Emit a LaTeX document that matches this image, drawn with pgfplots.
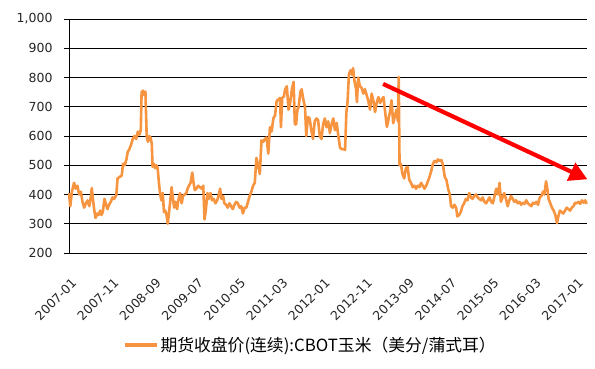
\documentclass[border=0pt]{standalone}
\usepackage{pgfplots}
\pgfplotsset{compat=1.18}
\usepackage{fontspec}
\setmainfont{DejaVu Sans}
\newfontfamily\cjk{Noto Sans CJK SC}
\usetikzlibrary{arrows.meta}
\definecolor{corn}{RGB}{247,148,64}
\pgfplotstableread{
m v
0 405
0.3 360
0.7 410
1.2 440
1.6 420
2.0 430
2.4 400
2.8 410
3.2 375
3.6 355
4.0 370
4.4 380
4.8 360
5.2 395
5.4 422
5.7 380
6.0 345
6.3 320
6.7 335
7.0 330
7.4 345
7.7 330
8.0 340
8.4 385
8.7 370
9.1 350
9.5 365
9.9 375
10.3 390
10.7 385
11.2 398
11.5 455
12.0 460
12.5 465
12.8 505
13.2 500
13.6 520
13.9 545
14.3 555
14.7 570
15.1 590
15.5 600
15.9 590
16.3 615
16.7 605
17.0 620
17.2 750
17.5 755
17.8 740
18.1 752
18.4 600
18.7 580
19.0 600
19.3 595
19.6 575
19.8 495
20.1 505
20.4 490
20.7 500
21.0 490
21.3 440
21.6 400
21.9 380
22.2 405
22.5 340
22.8 345
23.1 330
23.4 300
23.7 340
24.0 380
24.3 425
24.6 390
24.9 355
25.2 375
25.6 350
25.9 380
26.3 405
26.7 370
27.0 395
27.4 400
27.8 405
28.1 420
28.4 430
28.8 440
29.2 475
29.5 440
29.8 415
30.2 420
30.6 430
31.0 425
31.4 420
31.8 430
32.1 315
32.4 345
32.8 405
33.1 385
33.5 405
33.9 380
34.3 385
34.7 370
35.1 380
35.5 400
35.8 420
36.1 385
36.5 395
36.8 370
37.2 365
37.6 355
38.0 370
38.4 360
38.8 350
39.2 365
39.6 375
40.0 370
40.4 355
40.8 360
41.2 335
41.6 355
42.0 355
42.4 375
42.8 395
43.2 410
43.6 430
44.0 440
44.4 525
44.8 500
45.2 470
45.6 585
46.0 580
46.4 590
46.8 595
47.2 540
47.6 630
48.0 615
48.4 660
48.8 670
49.2 720
49.6 725
50.0 730
50.2 630
50.5 730
50.9 735
51.2 760
51.6 770
52.0 690
52.4 715
52.8 760
53.2 785
53.5 640
53.8 640
54.1 690
54.4 700
54.8 750
55.1 760
55.5 725
55.9 700
56.2 600
56.6 665
57.0 660
57.4 620
57.8 590
58.2 650
58.6 660
59.0 655
59.4 600
59.8 590
60.2 640
60.6 660
61.0 630
61.4 650
61.8 610
62.2 640
62.6 660
63.0 620
63.4 645
63.8 600
64.2 560
64.6 555
65.0 555
65.4 552
65.7 680
66.0 720
66.3 810
66.7 825
67.0 810
67.3 832
67.6 790
68.0 760
68.2 716
68.5 800
68.9 770
69.3 765
69.7 745
70.1 760
70.5 740
70.9 720
71.3 690
71.7 745
72.1 720
72.5 682
72.9 715
73.3 733
73.7 713
74.1 725
74.5 733
74.9 680
75.3 631
75.7 660
76.0 679
76.4 722
76.8 644
77.2 670
77.6 690
77.9 650
78.1 802
78.3 500
78.6 505
79.0 470
79.4 455
79.8 490
80.2 495
80.6 450
81.0 440
81.4 425
81.8 430
82.2 420
82.6 430
83.0 425
83.4 440
83.8 430
84.2 420
84.6 430
85.0 445
85.4 460
85.8 480
86.2 505
86.6 515
87.0 510
87.4 520
87.8 515
88.2 518
88.6 500
89.0 460
89.4 450
89.8 420
90.2 400
90.5 360
90.9 355
91.3 365
91.7 355
92.0 325
92.4 330
92.8 340
93.2 360
93.6 370
94.0 385
94.4 380
94.8 405
95.2 390
95.6 385
96.0 395
96.4 400
96.8 390
97.2 385
97.6 380
98.0 390
98.4 375
98.8 370
99.2 380
99.6 390
100.0 375
100.4 370
100.8 395
101.2 420
101.6 400
102.0 440
102.3 375
102.7 390
103.1 405
103.5 385
103.9 360
104.3 380
104.7 395
105.1 385
105.5 375
105.9 380
106.3 370
106.7 375
107.1 365
107.5 372
107.9 368
108.3 380
108.7 370
109.1 365
109.5 360
109.9 372
110.3 368
110.7 375
111.1 365
111.5 390
111.9 395
112.3 410
112.6 400
113.0 445
113.3 420
113.6 385
114.0 370
114.4 355
114.8 345
115.2 330
115.6 302
115.9 325
116.3 345
116.7 340
117.1 335
117.5 345
117.9 355
118.3 350
118.7 345
119.1 355
119.5 360
119.9 372
120.3 370
120.7 375
121.1 368
121.5 380
121.9 372
122.3 380
122.6 368
}\corn
\begin{document}
\begin{tikzpicture}
\path[use as bounding box] (-69pt,-115pt) rectangle (526pt,253pt);
\begin{axis}[
  at={(0pt,0pt)}, anchor=south west,
  scale only axis, width=518pt, height=234pt,
  xmin=0, xmax=122.7, ymin=200, ymax=1000,
  ytick={200,300,...,1000},
  xtick={0,10,...,120},
  xticklabels={2007-01,2007-11,2008-09,2009-07,2010-05,2011-03,2012-01,2012-11,2013-09,2014-07,2015-05,2016-03,2017-01},
  axis x line*=bottom, axis y line*=left,
  axis line style={black, line width=0.9pt, -},
  ymajorgrids, major grid style={black, line width=0.9pt},
  y tick style={black, line width=0.9pt}, tick align=outside,
  major tick length=5pt,
  x tick style={draw=none},
  /pgf/number format/assume math mode=true,
  /pgf/number format/1000 sep={,},
  yticklabel style={font=\fontsize{12.5}{14}\selectfont, text=black!85, xshift=-8pt},
  xticklabel style={font=\fontsize{12.5}{14}\selectfont, text=black!85, inner sep=1pt, xshift=6pt, yshift=-22pt, rotate=45, anchor=east},
  clip=false,
  legend style={at={(0.466,-0.393)}, anchor=center, draw=none, fill=none,
    font=\cjk\fontsize{16.8}{18}\selectfont, inner sep=0pt},
  legend image code/.code={\draw[corn, line width=3.5pt] (0pt,0pt) -- (32pt,0pt);},
]
\addplot[corn, line width=2.6pt, line join=round] table[x=m,y=v] {\corn};
\addlegendentry{期货收盘价(连续):CBOT玉米（美分/蒲式耳）}
\draw[red, line width=4.2pt, -{Triangle[length=18pt,width=19pt]}] (axis cs:74.4,778) -- (axis cs:122.8,452);
\end{axis}
\end{tikzpicture}
\end{document}
